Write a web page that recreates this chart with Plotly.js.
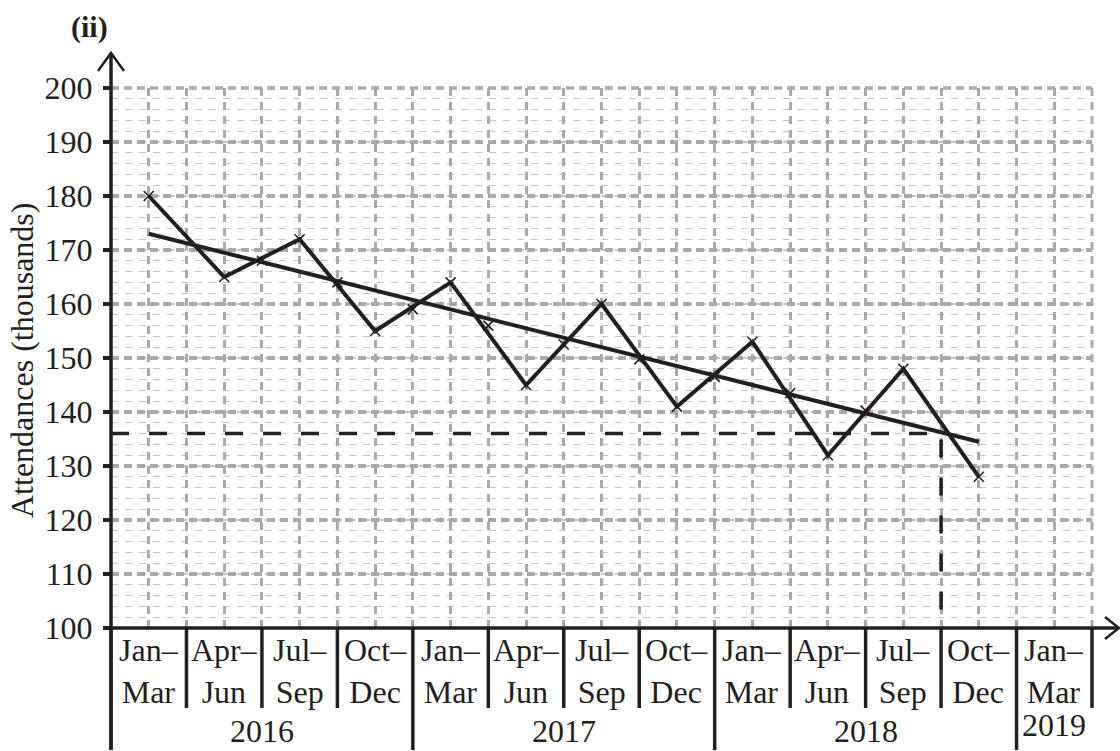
<!DOCTYPE html>
<html>
<head>
<meta charset="utf-8">
<script src="https://cdn.plot.ly/plotly-3.0.1.min.js"></script>
<style>
  html, body { margin: 0; padding: 0; background: #ffffff; }
  #chart { width: 1120px; height: 751px; }
</style>
</head>
<body>
<div id="chart"></div>
<script>
// ---- data ----
const columnLabels = [
  'Jan–<br>Mar', 'Apr–<br>Jun', 'Jul–<br>Sep', 'Oct–<br>Dec',
  'Jan–<br>Mar', 'Apr–<br>Jun', 'Jul–<br>Sep', 'Oct–<br>Dec',
  'Jan–<br>Mar', 'Apr–<br>Jun', 'Jul–<br>Sep', 'Oct–<br>Dec',
  'Jan–<br>Mar'
];
const years = ['2016', '2017', '2018', '2019'];
const yearFirstColumn = [0, 4, 8, 12];
const yearLastColumn = [3, 7, 11, 12];

// quarterly attendances (thousands), Jan–Mar 2016 ... Oct–Dec 2018
const attendances = [180, 165, 172, 155, 164, 145, 160, 141, 153, 132, 148, 128];
// centred moving averages, plotted between quarters (first between Apr–Jun and Jul–Sep 2016)
const movingAverages = [168, 164, 159, 156, 152.5, 149.75, 146.5, 143.5, 140.25];
const movingAverageFirstBoundary = 2;
// line of best fit: value at first quarter and at last quarter
const trendValues = [173, 134.5];
// read-off: boundary (in quarters) and value
const readOffBoundary = 11;
const readOffValue = 136;

const yTickValues = [100, 110, 120, 130, 140, 150, 160, 170, 180, 190, 200];
const nColumns = columnLabels.length;

// ---- derived positions on the quarter scale ----
const qx = attendances.map((_, i) => i + 0.5);
const maX = movingAverages.map((_, i) => i + movingAverageFirstBoundary);
const trendX = [0.5, attendances.length - 0.5];

const ink = '#231f20';
const serif = 'Liberation Serif, Times New Roman, serif';
const labelSize = 32;

const traces = [
  {
    x: [0, readOffBoundary, readOffBoundary],
    y: [readOffValue, readOffValue, 100],
    mode: 'lines',
    line: { color: ink, width: 3.5, dash: '18px,20px' },
    hoverinfo: 'skip', showlegend: false, cliponaxis: false
  },
  {
    x: trendX, y: trendValues,
    mode: 'lines',
    line: { color: ink, width: 4 },
    showlegend: false
  },
  {
    x: qx, y: attendances,
    mode: 'lines+markers',
    line: { color: ink, width: 4 },
    marker: { symbol: 'x-thin', size: 10, line: { width: 1.6, color: ink } },
    showlegend: false, cliponaxis: false
  },
  {
    x: maX, y: movingAverages,
    mode: 'markers',
    marker: { symbol: 'x-thin', size: 10, line: { width: 1.6, color: ink } },
    showlegend: false, cliponaxis: false
  }
];

// pixel geometry helpers for decorations (paper coordinates)
const L = 111, R = 28, T = 88, B = 123, W = 1120, H = 751;
const pw = W - L - R, ph = H - T - B;
const px = v => (v - L) / pw;            // pixel x -> paper
const py = v => (H - B - v) / ph;        // pixel y -> paper
const colPaper = k => k / nColumns;

const shapes = [];
// right-hand vertical grid line at the last column edge
shapes.push({
  type: 'line', xref: 'paper', yref: 'paper', x0: 1, x1: 1, y0: 0, y1: 1,
  line: { color: '#a9a9a9', width: 3, dash: '8px,6px' }, layer: 'below'
});
// top horizontal grid line at 200
shapes.push({
  type: 'line', xref: 'paper', yref: 'paper', x0: 0, x1: 1, y0: 1, y1: 1,
  line: { color: '#a9a9a9', width: 3.5, dash: '8px,5px' }, layer: 'below'
});
// column dividers below the axis
for (let k = 0; k <= nColumns; k++) {
  const isYearEdge = yearFirstColumn.includes(k);
  shapes.push({
    type: 'line', xref: 'paper', yref: 'paper',
    x0: colPaper(k), x1: colPaper(k),
    y0: 0, y1: isYearEdge ? py(750) : py(708),
    line: { color: ink, width: 3.5 }, layer: 'above'
  });
}
// y axis line (with arrow)
shapes.push({ type: 'line', xref: 'paper', yref: 'paper', x0: 0, x1: 0, y0: py(750), y1: py(53),
  line: { color: ink, width: 3.5 }, layer: 'above' });
shapes.push({ type: 'path', xref: 'paper', yref: 'paper',
  path: `M ${px(98)} ${py(71)} L ${px(111)} ${py(53)} L ${px(124)} ${py(71)}`,
  line: { color: ink, width: 2.5 }, layer: 'above' });
// x axis line (with arrow)
shapes.push({ type: 'line', xref: 'paper', yref: 'paper', x0: px(104), x1: px(1118), y0: 0, y1: 0,
  line: { color: ink, width: 3.5 }, layer: 'above' });
shapes.push({ type: 'path', xref: 'paper', yref: 'paper',
  path: `M ${px(1105)} ${py(617)} L ${px(1119)} ${py(628)} L ${px(1105)} ${py(639)}`,
  line: { color: ink, width: 2.5 }, layer: 'above' });

const annotations = [];
columnLabels.forEach((t, i) => {
  annotations.push({
    text: t, xref: 'x', yref: 'paper', x: i + 0.5, y: py(671),
    xanchor: 'center', yanchor: 'middle', showarrow: false,
    font: { family: serif, size: labelSize, color: ink }
  });
});
years.forEach((t, i) => {
  const center = (yearFirstColumn[i] + yearLastColumn[i] + 1) / 2;
  annotations.push({
    text: t, xref: 'x', yref: 'paper', x: center,
    y: py(i === years.length - 1 ? 725 : 731),
    xanchor: 'center', yanchor: 'middle', showarrow: false,
    font: { family: serif, size: labelSize, color: ink }
  });
});
annotations.push({
  text: 'Attendances (thousands)', xref: 'paper', yref: 'paper',
  x: px(22), y: py(361), textangle: -90, xanchor: 'center', yanchor: 'middle',
  showarrow: false, font: { family: serif, size: 32, color: ink }
});
annotations.push({
  text: '<b>(ii)</b>', xref: 'paper', yref: 'paper',
  x: px(89), y: py(27), xanchor: 'center', yanchor: 'middle',
  showarrow: false, font: { family: serif, size: 30, color: ink }
});

const layout = {
  width: W, height: H,
  margin: { l: L, r: R, t: T, b: B, pad: 0 },
  paper_bgcolor: '#ffffff', plot_bgcolor: '#ffffff',
  showlegend: false,
  xaxis: {
    range: [0, nColumns], tick0: 0, dtick: 0.5,
    showgrid: true, gridcolor: '#a9a9a9', gridwidth: 3, griddash: '8px,6px',
    showticklabels: false, ticks: '', zeroline: false, showline: false, fixedrange: true
  },
  yaxis: {
    range: [100, 200], tickvals: yTickValues,
    showgrid: true, gridcolor: '#a9a9a9', gridwidth: 3.5, griddash: '8px,5px',
    minor: { dtick: 2, tick0: 100, showgrid: true, gridcolor: '#c6c6c6', gridwidth: 1.3, griddash: '7px,7px', ticks: '' },
    ticks: 'outside', ticklen: 7, tickwidth: 3.5, tickcolor: ink,
    ticklabelstandoff: 4,
    tickfont: { family: serif, size: labelSize, color: ink },
    zeroline: false, showline: false, fixedrange: true
  },
  shapes: shapes,
  annotations: annotations
};

Plotly.newPlot('chart', traces, layout, { staticPlot: true, displayModeBar: false });
</script>
</body>
</html>
